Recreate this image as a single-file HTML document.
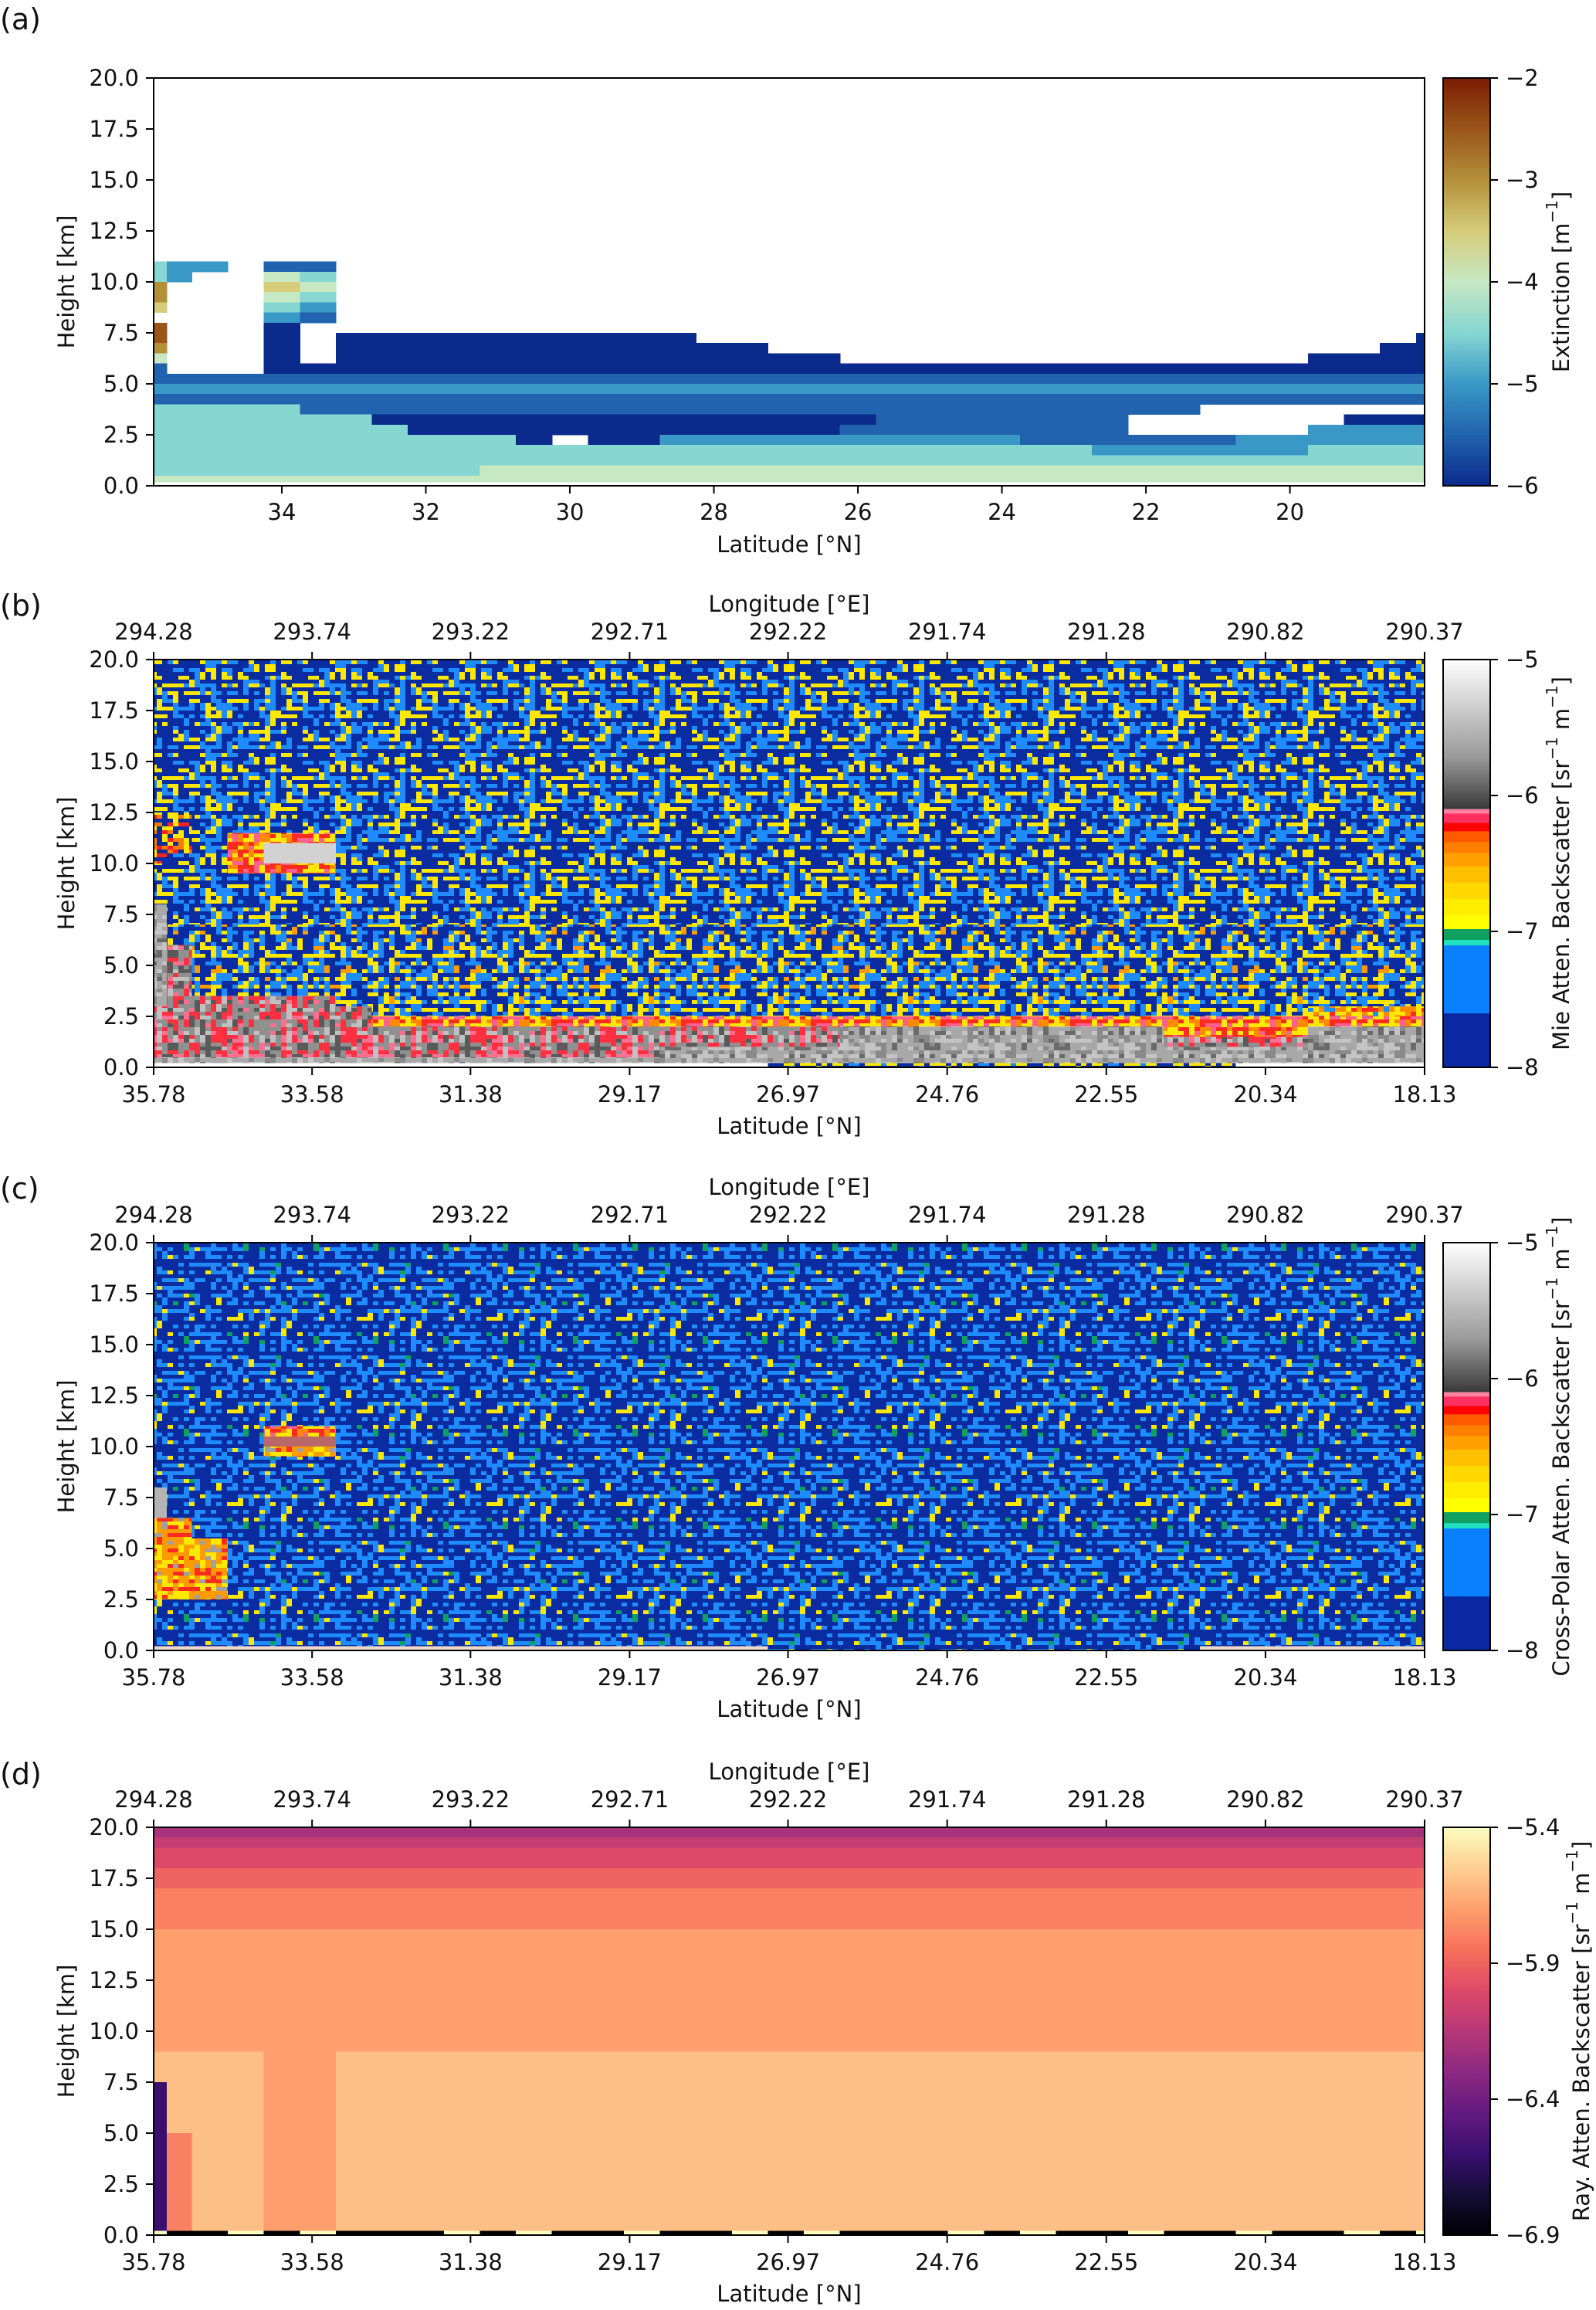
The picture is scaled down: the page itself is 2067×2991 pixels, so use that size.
<!DOCTYPE html>
<html><head><meta charset="utf-8">
<style>
html,body{margin:0;padding:0;background:#fff;}
svg{display:block;font-family:"DejaVu Sans","Liberation Sans",sans-serif;}
.t{font-size:29px;fill:#111;}
.pl{font-size:38px;fill:#111;}
</style></head>
<body>
<svg id="fig" xmlns="http://www.w3.org/2000/svg" width="2067" height="2991" viewBox="0 0 2067 2991">
<rect x="0" y="0" width="2067" height="2991" fill="#fff"/>
<defs id="pdefs"></defs>
<text class="pl" x="0" y="38">(a)</text>
<text class="pl" x="0" y="797">(b)</text>
<text class="pl" x="0" y="1552">(c)</text>
<text class="pl" x="0" y="2310">(d)</text>
<g id="layer"></g>
</svg>
<script>
// ---------- data ----------
const heightTicks = [0, 2.5, 5, 7.5, 10, 12.5, 15, 17.5, 20];
const latTicksA = [34, 32, 30, 28, 26, 24, 22, 20];
const latTicks = ['35.78','33.58','31.38','29.17','26.97','24.76','22.55','20.34','18.13'];
const lonTicks = ['294.28','293.74','293.22','292.71','292.22','291.74','291.28','290.82','290.37'];
const cbTicksA = [-6, -5, -4, -3, -2];
const cbTicksB = [-8, -7, -6, -5];
const cbTicksC = [-8, -7, -6, -5];
const cbTicksD = [-6.9, -6.4, -5.9, -5.4];

// Panel (a) extinction grid, letters A..I = -6 .. -2 (step 0.5), '.' = no data
const gridA = [
".37",".37",".37",".37",".37",".37",".37",".37",".37",".37",".37",".37",".37",".37",".37",".37",".37",
".37",
"D1C2.1B2.31",
"D1C1.2E1D1.31",
"G1.3F1E1.31",
"G1.3E1D1.31",
"F1.3D1C1.31",
".4C1B1.31",
"H1.3A1.32",
"H1.3A1.1A10.20A1",
"G1.3A1.1A12.17A2",
"E1.3A1.1A14.13A4",
"B1.3A33",
"B37",
"C37",
"B37",
"D5B25.7",
"D7A14B7.6A3",
"D8A12B8.5C4",
"D11A1.1A2C10B6C6",
"D27C6D4",
"D37",
"D10E27",
"E37",
".37"
];
// Panel (b) Mie backscatter, class letters
const gridB = [
"n37","n37","n37","n37","n37","n37","n37","n37","n37","n37","n37","n37","n37","n37","n37",
"o2n35",
"o2n35",
"o2n1r3n31",
"o2n1r1G2n31",
"o1n2r1G2n31",
"n3r3n31",
"n37","n37","n37",
"g1n36","g1n36",
"g1m36","g1m36",
"g1p1m35","g1p1m35","g1p1m35","g1p1m35","g1p1m35",
"g1p5m31",
"p7m26y4",
"p7r30",
"p20g9r4g4",
"p20g9p4g4",
"p15g22",
"g37",
"w18s13w6"
];
// Panel (c) cross-polar backscatter, class letters
const gridC = [
"n37","n37","n37","n37","n37","n37","n37","n37","n37","n37","n37","n37","n37","n37","n37","n37","n37","n37",
"n4r2n31",
"n4q2n31",
"n4o2n31",
"n37","n37","n37",
"G1n36","G1n36","G1n36",
"o2n35","o2n35",
"o3n34","o3n34","o3n34","o3n34","o3n34","o3n34",
"n37","n37","n37","n37","n37",
"l18n12l7"
];
// Panel (d) Rayleigh backscatter, letters A..P = -6.9 .. -5.4 (step 0.1)
const gridD = [
"H37","I37","J37","J37","K37","K37","L37","L37","L37","L37",
"M37","M37","M37","M37","M37","M37","M37","M37","M37","M37","M37","M37",
"N4M2N31","N4M2N31","N4M2N31",
"D1N3M2N31","D1N3M2N31","D1N3M2N31","D1N3M2N31","D1N3M2N31",
"D1L1N2M2N31","D1L1N2M2N31","D1L1N2M2N31","D1L1N2M2N31","D1L1N2M2N31",
"D1L1N2M2N31","D1L1N2M2N31","D1L1N2M2N31","D1L1N2M2N31","D1L1N2M2N31",
"PAAPAPAAAPAPAAPAAPAPAAAPAPAAPAAPAAPAP"
];
// colour classes for b / c (texture classes refer to speckle patterns)
const classB = {n:'url(#spB_n)', m:'url(#spB_m)', o:'url(#spB_o)', r:'url(#spB_r)', y:'url(#spB_y)', p:'url(#spB_p)', g:'url(#spB_g)', G:'#d2d2d2', s:'url(#spB_s)', w:'#ffffff'};
const classC = {n:'url(#spC_n)', o:'url(#spC_o)', q:'#b86868', r:'url(#spB_r)', G:'#b4b4b4', l:'#f0d8c8'};
// colormap stops
const stopsA = [[-6,'#0a2a8c'],[-5.5,'#2163ae'],[-5,'#3a98c6'],[-4.5,'#86d6d2'],[-4,'#c6e8c2'],[-3.5,'#d6cc7a'],[-3,'#b48f3a'],[-2.5,'#9a561a'],[-2,'#7a1c02']];
const stopsD = [[-6.9,'#000004'],[-6.75,'#140e36'],[-6.6,'#3b0f70'],[-6.45,'#641a80'],[-6.3,'#8c2981'],[-6.15,'#b73779'],[-6.0,'#de4968'],[-5.85,'#f7705c'],[-5.7,'#fe9f6d'],[-5.55,'#fecf92'],[-5.4,'#fcfdbf']];
const segB = [[-8,-7.6,'#0a28a0'],[-7.6,-7.1,'#0a80ff'],[-7.1,-7.06,'#20e0c0'],[-7.06,-6.98,'#10a060'],[-6.98,-6.88,'#ffff00'],[-6.88,-6.76,'#ffee00'],[-6.76,-6.64,'#ffd800'],[-6.64,-6.52,'#ffc000'],[-6.52,-6.42,'#ffa000'],[-6.42,-6.34,'#ff7f00'],[-6.34,-6.26,'#ff5a00'],[-6.26,-6.2,'#ff0000'],[-6.2,-6.13,'#ff3060'],[-6.13,-6.1,'#ff80a0']];

// ---------- speckle textures (decorative) ----------
const NS = 'http://www.w3.org/2000/svg';
const pdefs = document.getElementById('pdefs');
function hsh(i, j, k){ const v = Math.sin(i * 12.9898 + j * 78.233 + k * 37.719) * 43758.5453; return v - Math.floor(v); }
function makePattern(id, cols, w, k){
  const CW = 7, CH = 5, N = 24;
  const p = document.createElementNS(NS, 'pattern');
  p.setAttribute('id', id); p.setAttribute('patternUnits', 'userSpaceOnUse');
  p.setAttribute('width', N * CW); p.setAttribute('height', N * CH);
  const bg = document.createElementNS(NS, 'rect');
  bg.setAttribute('width', N * CW); bg.setAttribute('height', N * CH); bg.setAttribute('fill', cols[0]);
  p.appendChild(bg);
  for (let i = 0; i < N; i++) for (let j = 0; j < N; j++) {
    const h = hsh(i, Math.floor(j / 2) * 2 + (hsh(i, j, k) > 0.6 ? 1 : 0), k);
    let acc = 0, ci = 0;
    for (; ci < w.length; ci++) { acc += w[ci]; if (h < acc) break; }
    if (ci === 0 || ci >= cols.length) continue;
    const r = document.createElementNS(NS, 'rect');
    r.setAttribute('x', i * CW); r.setAttribute('y', j * CH); r.setAttribute('width', CW); r.setAttribute('height', CH);
    r.setAttribute('fill', cols[ci]);
    p.appendChild(r);
  }
  pdefs.appendChild(p);
}
const DB = '#0a2ca0', LB = '#1e8cff', YE = '#ffe800';
makePattern('spB_n', [DB, LB, YE], [0.5, 0.3, 0.2], 1);
makePattern('spB_m', [DB, LB, YE, '#ff9a00'], [0.42, 0.28, 0.26, 0.04], 2);
makePattern('spB_o', [DB, YE, '#ff7a00', '#ff2020'], [0.35, 0.3, 0.2, 0.15], 3);
makePattern('spB_r', ['#ff2a20', '#ff8a00', YE, '#ff6090'], [0.35, 0.25, 0.25, 0.15], 4);
makePattern('spB_y', [YE, '#ff8a00', '#ff2a20', LB], [0.4, 0.25, 0.2, 0.15], 5);
makePattern('spB_p', ['#909090', '#ff3040', '#ff7090', '#5a5a5a', '#c0c0c0'], [0.35, 0.25, 0.15, 0.12, 0.13], 6);
makePattern('spB_g', ['#a8a8a8', '#8a8a8a', '#c4c4c4', '#6a6a6a'], [0.4, 0.25, 0.25, 0.1], 7);
makePattern('spB_s', [DB, YE, LB], [0.6, 0.25, 0.15], 8);
makePattern('spC_n', [DB, LB, YE, '#10a060'], [0.55, 0.35, 0.08, 0.02], 9);
makePattern('spC_o', ['#ff9a00', YE, '#ff2a20', '#a0a0a0'], [0.35, 0.3, 0.25, 0.1], 10);

// ---------- geometry / helpers ----------
const layer = document.getElementById('layer');
const X0 = 199, X1 = 1845, H = 528, LATMAX = 35.78, LATMIN = 18.13;
const CBX0 = 1869, CBX1 = 1930;
function xOf(lat){ return X0 + (LATMAX - lat) / (LATMAX - LATMIN) * (X1 - X0); }
function yOf(top, h){ return top + (20 - h) / 20 * H; }
const latEdges = [35.78, 35.6];
for (let v = 35.25; v >= 18.25 - 1e-9; v -= 0.5) latEdges.push(+v.toFixed(2));
latEdges.push(18.13);
const hEdges = [];
for (let v = 20; v >= 0.5 - 1e-9; v -= 0.5) hEdges.push(+v.toFixed(2));
hEdges.push(0.2, 0);
function el(tag, attrs, parent){ const e = document.createElementNS(NS, tag); for (const k in attrs) e.setAttribute(k, attrs[k]); (parent || layer).appendChild(e); return e; }
function decode(s){ if (!/\d/.test(s)) return s.split(''); const out = []; s.replace(/(\D)(\d+)/g, (m, c, n) => { for (let i = 0; i < +n; i++) out.push(c); }); return out; }
function hex(c){ return [parseInt(c.slice(1,3),16), parseInt(c.slice(3,5),16), parseInt(c.slice(5,7),16)]; }
function interp(stops, v){
  if (v <= stops[0][0]) return stops[0][1];
  for (let i = 1; i < stops.length; i++) {
    if (v <= stops[i][0]) {
      const t = (v - stops[i-1][0]) / (stops[i][0] - stops[i-1][0]);
      const a = hex(stops[i-1][1]), b = hex(stops[i][1]);
      return 'rgb(' + a.map((x, j) => Math.round(x + (b[j] - x) * t)).join(',') + ')';
    }
  }
  return stops[stops.length-1][1];
}
function colorA(ch){ if (ch === '.') return null; return interp(stopsA, -6 + 0.5 * (ch.charCodeAt(0) - 65)); }
function colorD(ch){ return interp(stopsD, -6.9 + 0.1 * (ch.charCodeAt(0) - 65)); }

function drawGrid(grid, top, colorFn, name){
  const g = el('g', {'shape-rendering':'crispEdges'});
  
  
  grid.forEach((row, r) => {
    const cells = decode(row);
    const y0 = yOf(top, hEdges[r]), y1 = yOf(top, hEdges[r+1]);
    for (let c = 0; c < latEdges.length - 1; c++) {
      const ch = cells[c] !== undefined ? cells[c] : cells[cells.length-1];
      const col = colorFn(ch);
      if (!col) continue;
      const x0 = xOf(latEdges[c]), x1 = xOf(latEdges[c+1]);
      const rc = el('rect', {x: x0.toFixed(1), y: y0.toFixed(1), width: (x1 - x0 + 0.6).toFixed(1), height: (y1 - y0 + 0.6).toFixed(1), fill: col}, g);
      
      
    }
  });
}

function text(str, x, y, attrs, name){
  const t = el('text', Object.assign({x: x, y: y, class: 't'}, attrs || {}));
  t.textContent = str;
  
  
  return t;
}

function axes(top, opts){
  const bottom = top + H;
  const fr = el('rect', {x: X0, y: top, width: X1 - X0, height: H, fill: 'none', stroke: '#000', 'stroke-width': 2});
  
  
  heightTicks.forEach(v => {
    const y = yOf(top, v);
    el('line', {x1: X0 - 10, x2: X0, y1: y, y2: y, stroke: '#000', 'stroke-width': 2});
    text(v.toFixed(1), 180, y, {'text-anchor': 'end', 'dominant-baseline': 'central'}, 'y-tick-label');
  });
  text('Height [km]', 0, 0, {'text-anchor': 'middle', 'dominant-baseline': 'central', transform: 'translate(86,' + (top + H/2) + ') rotate(-90)'}, 'y-axis-title');
  if (opts.latA) {
    latTicksA.forEach(v => {
      const x = xOf(v);
      el('line', {x1: x, x2: x, y1: bottom, y2: bottom + 10, stroke: '#000', 'stroke-width': 2});
      text(String(v), x, bottom + 34, {'text-anchor': 'middle', 'dominant-baseline': 'central'}, 'x-tick-label');
    });
  } else {
    latTicks.forEach((v, i) => {
      const x = xOf(parseFloat(v));
      el('line', {x1: x, x2: x, y1: bottom, y2: bottom + 10, stroke: '#000', 'stroke-width': 2});
      text(v, x, bottom + 35, {'text-anchor': 'middle', 'dominant-baseline': 'central'}, 'x-tick-label');
      el('line', {x1: x, x2: x, y1: top - 10, y2: top, stroke: '#000', 'stroke-width': 2});
      text(lonTicks[i], x, top - 36, {'text-anchor': 'middle', 'dominant-baseline': 'central'}, 'top-x-tick-label');
    });
    text('Longitude  [°E]', (X0 + X1) / 2, top - 72, {'text-anchor': 'middle', 'dominant-baseline': 'central'}, 'top-x-axis-title');
  }
  text(opts.latA ? 'Latitude [°N]' : 'Latitude  [°N]', (X0 + X1) / 2, bottom + 76, {'text-anchor': 'middle', 'dominant-baseline': 'central'}, 'x-axis-title');
}

function colorbar(top, kind, ticks, vmin, vmax, labelParts, labelX){
  const yv = v => top + H - (v - vmin) / (vmax - vmin) * H;
  const g = el('g', {});
  
  
  if (kind === 'a' || kind === 'd') {
    const stops = kind === 'a' ? stopsA : stopsD;
    const id = 'grad' + kind;
    const defs = el('defs', {}, g);
    const lg = el('linearGradient', {id: id, x1: 0, y1: 1, x2: 0, y2: 0}, defs);
    stops.forEach(s => el('stop', {offset: ((s[0] - vmin) / (vmax - vmin)).toFixed(4), 'stop-color': s[1]}, lg));
    el('rect', {x: CBX0, y: top, width: CBX1 - CBX0, height: H, fill: 'url(#' + id + ')'}, g);
  } else {
    segB.forEach(s => {
      const r = el('rect', {x: CBX0, y: yv(s[1]).toFixed(1), width: CBX1 - CBX0, height: (yv(s[0]) - yv(s[1]) + 0.5).toFixed(1), fill: s[2]}, g);
      
      
    });
    const id = 'gray' + kind;
    const defs = el('defs', {}, g);
    const lg = el('linearGradient', {id: id, x1: 0, y1: 1, x2: 0, y2: 0}, defs);
    el('stop', {offset: 0, 'stop-color': '#3a3a3a'}, lg);
    el('stop', {offset: 0.35, 'stop-color': '#9a9a9a'}, lg);
    el('stop', {offset: 1, 'stop-color': '#ffffff'}, lg);
    el('rect', {x: CBX0, y: top, width: CBX1 - CBX0, height: yv(-6.1) - top, fill: 'url(#' + id + ')'}, g);
  }
  el('rect', {x: CBX0, y: top, width: CBX1 - CBX0, height: H, fill: 'none', stroke: '#000', 'stroke-width': 2}, g);
  ticks.forEach(v => {
    const y = yv(v);
    el('line', {x1: CBX1, x2: CBX1 + 10, y1: y, y2: y, stroke: '#000', 'stroke-width': 2}, g);
    text('\u2212' + Math.abs(v).toString(), CBX1 + 20, y, {'dominant-baseline': 'central'}, 'colorbar-tick-label');
  });
  const t = el('text', {class: 't', 'text-anchor': 'middle', transform: 'translate(' + labelX + ',' + (top + H/2) + ') rotate(-90)', 'dominant-baseline': 'central'});
  
  
  labelParts.forEach(p => {
    const ts = el('tspan', {}, t);
    if (p.sup) { ts.setAttribute('baseline-shift', 'super'); ts.setAttribute('font-size', '20'); }
    ts.textContent = p.s;
  });
}

// ---------- draw ----------
const TOPS = [101, 854, 1609, 2366];
drawGrid(gridA, TOPS[0], colorA, 'extinction-heatmap');
drawGrid(gridB, TOPS[1], ch => classB[ch], 'mie-backscatter-heatmap');
drawGrid(gridC, TOPS[2], ch => classC[ch], 'crosspolar-backscatter-heatmap');
drawGrid(gridD, TOPS[3], colorD, 'rayleigh-backscatter-heatmap');
axes(TOPS[0], {latA: true});
axes(TOPS[1], {});
axes(TOPS[2], {});
axes(TOPS[3], {});
const unit = [{s:' [sr'},{s:'\u22121',sup:true},{s:' m'},{s:'\u22121',sup:true},{s:']'}];
colorbar(TOPS[0], 'a', cbTicksA, -6, -2, [{s:'Extinction [m'},{s:'\u22121',sup:true},{s:']'}], 2022);
colorbar(TOPS[1], 'b', cbTicksB, -8, -5, [{s:'Mie Atten. Backscatter'}].concat(unit), 2022);
colorbar(TOPS[2], 'c', cbTicksC, -8, -5, [{s:'Cross-Polar Atten. Backscatter'}].concat(unit), 2022);
colorbar(TOPS[3], 'd', cbTicksD, -6.9, -5.4, [{s:'Ray. Atten. Backscatter'}].concat(unit), 2048);
</script>
</body></html>
